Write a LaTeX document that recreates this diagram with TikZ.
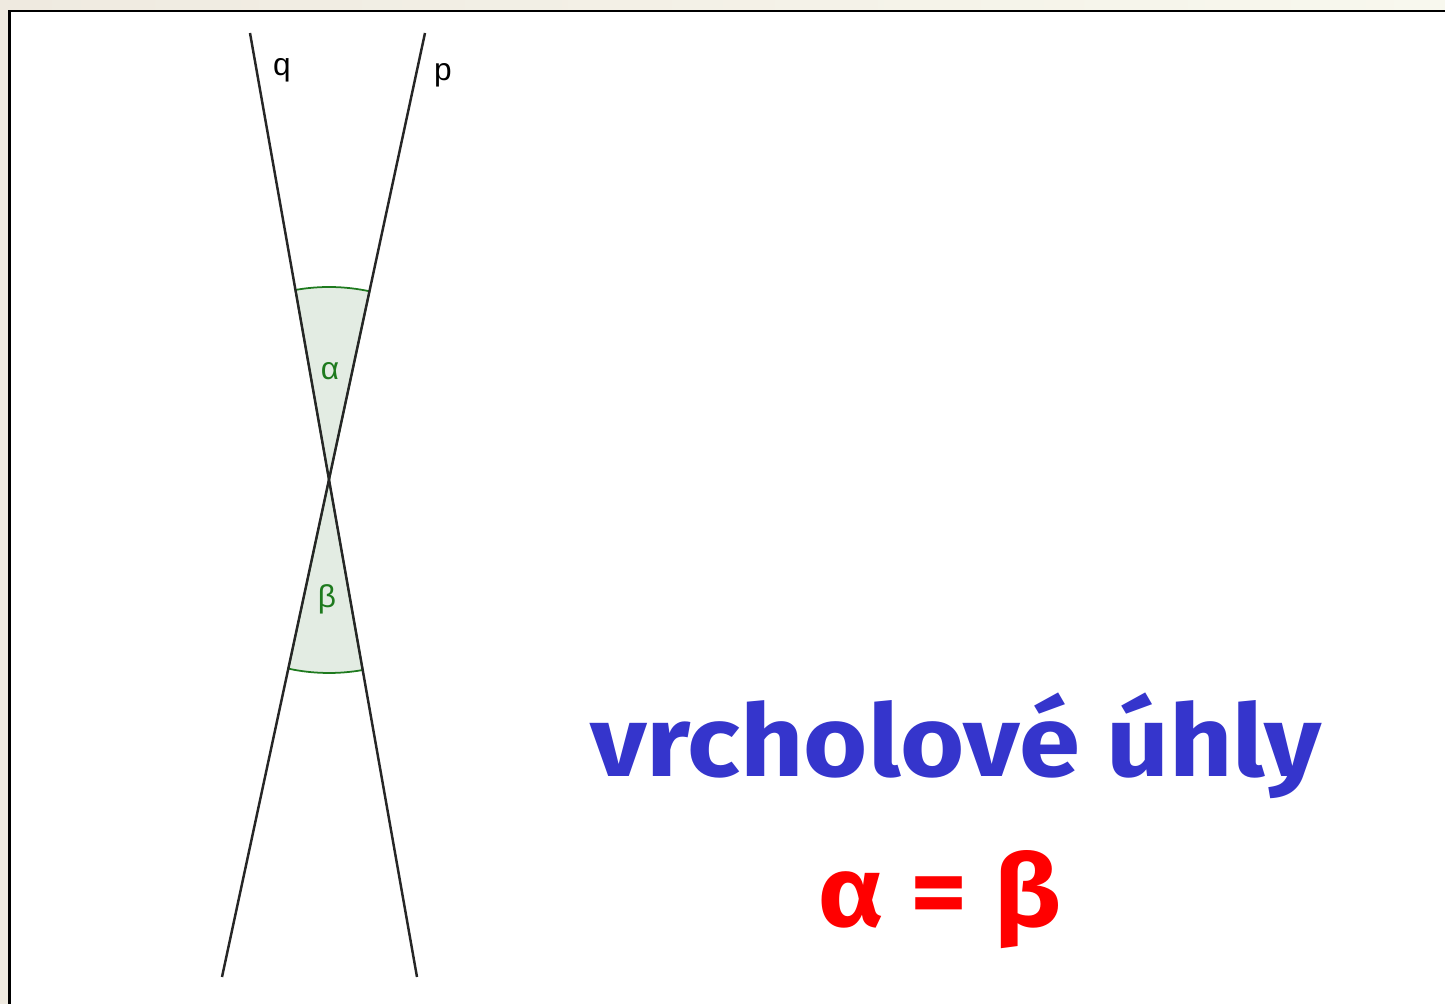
\documentclass[tikz,border=0pt]{standalone}
\usepackage{fontspec}
\setmainfont{Fira Sans}
\newfontfamily\titlefont[FakeStretch=1.1]{Fira Sans}
\newfontfamily\labelfont{Liberation Sans}
\definecolor{anglegreen}{HTML}{1E7A1E}
\definecolor{anglefill}{HTML}{E3ECE3}
\definecolor{titleblue}{HTML}{3535CC}
\definecolor{bgleft}{HTML}{EFEAE0}
\definecolor{bgmid}{HTML}{E4F2F0}
\definecolor{bgright}{HTML}{F8F8EE}
\usetikzlibrary{calc}

\begin{document}
\begin{tikzpicture}[x=0.02cm,y=0.02cm,
  line/.style={line width=1.4pt,black!85},
  sector/.style={draw=anglegreen,fill=anglefill,line width=1pt},
  lab/.style={font=\labelfont\fontsize{18}{20}\selectfont,inner sep=0pt},
  anglab/.style={lab,text=anglegreen},
  big/.style={font=\titlefont\fontsize{57}{66}\selectfont\bfseries,inner sep=0pt,anchor=base}]
\useasboundingbox (0,0) rectangle (1445,1004);
% page behind the frame
\shade[left color=bgleft,middle color=bgmid,right color=bgright] (0,0) rectangle (1445,1004);
\fill[white] (9.5,0) rectangle (1445,993);
\draw[line width=1.4pt] (9.5,0) -- (9.5,993) -- (1445,993);
% the two lines and their crossing
\coordinate (V) at (329,524);
\coordinate (qtop) at (250,971);
\coordinate (qbot) at (417,27);
\coordinate (ptop) at (425,971);
\coordinate (pbot) at (222,27);
\filldraw[sector] (V) -- +(77.88:193) arc[start angle=77.88,end angle=100.02,radius=193] -- cycle;
\filldraw[sector] (V) -- +(257.85:193) arc[start angle=257.85,end angle=280.04,radius=193] -- cycle;
\draw[line] (qtop) -- (qbot);
\draw[line] (ptop) -- (pbot);
\node[lab] (q) at (282,934) {q};
\node[lab] (p) at (443,929) {p};
\node[anglab] (alpha) at (330,633) {α};
\node[anglab] (beta) at (327,405) {β};
% caption
\node[big,text=titleblue] (title) at (956,227) {vrcholové úhly};
\node[big,text=red] (eq) at (940,77) {α = β};
\end{tikzpicture}
\end{document}
